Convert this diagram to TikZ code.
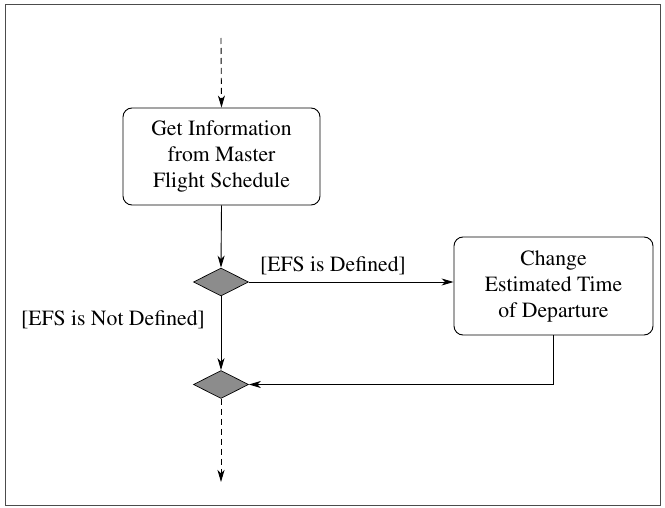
\documentclass[tikz,border=0pt]{standalone}
\usepackage[T1]{fontenc}
\usepackage{times}
\usetikzlibrary{shapes.geometric,arrows.meta}
\begin{document}
\begin{tikzpicture}[x=1pt,y=-1pt,
  every node/.style={font=\rmfamily\fontsize{21.7}{26}\selectfont},
  act/.style={draw,rounded corners=9pt,align=center,inner sep=0pt,line width=0.9pt},
  dec/.style={draw,diamond,fill=black!45,inner sep=0pt,minimum width=55pt,minimum height=28pt,line width=0.7pt},
  flow/.style={line width=0.9pt,-{Stealth[length=12pt,width=7pt,inset=3.5pt]}},
  dflow/.style={flow,dashed,dash pattern=on 6pt off 4pt}]
\useasboundingbox (0,0) rectangle (665,508);
\draw[line width=1pt,black!70] (5,5) rectangle (660,505);
\coordinate (start) at (221,38);
\coordinate (end) at (221,482);
\node[act,minimum width=197pt,minimum height=97pt] (get) at (221.5,156.5) {Get Information\\from Master\\Flight Schedule};
\node[dec] (d1) at (221,282) {};
\node[dec] (d2) at (221,384.5) {};
\node[act,minimum width=199pt,minimum height=98pt] (chg) at (553.5,286) {Change\\Estimated Time\\of Departure};
\node (l1) at (333,266) {[EFS is Defined]};
\node (l2) at (113,320) {[EFS is Not Defined]};
\draw[dflow] (start) -- (get.north);
\draw[flow] (get.south) -- (d1.north);
\draw[flow] (d1.east) -- (d1.east -| chg.west);
\draw[flow] (d1.south) -- (d2.north);
\draw[flow] (chg.south) |- (d2.east);
\draw[dflow] (d2.south) -- (end);
\end{tikzpicture}
\end{document}
